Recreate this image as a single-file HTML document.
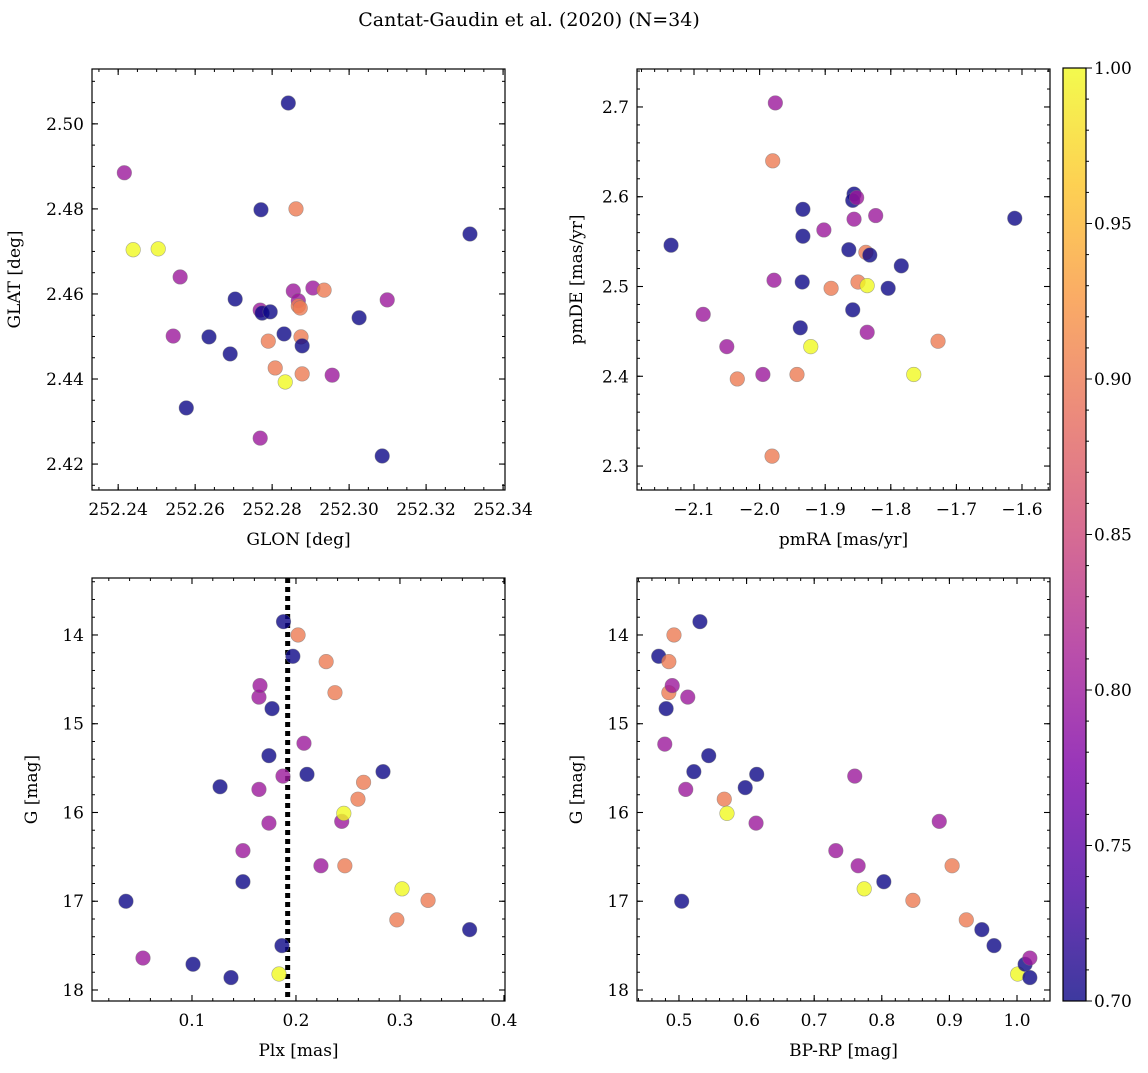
<!DOCTYPE html>
<html><head><meta charset="utf-8"><style>
html,body{margin:0;padding:0;background:#fff;}
svg text{font-family:"DejaVu Serif","Liberation Serif",serif;fill:#000;}
</style></head><body>
<svg id="fig" width="1148" height="1068" xmlns="http://www.w3.org/2000/svg">
<defs><linearGradient id="plasma" x1="0" y1="1" x2="0" y2="0">
<stop offset="0" stop-color="#0d0887"/><stop offset="0.125" stop-color="#4c02a1"/><stop offset="0.25" stop-color="#7e03a8"/><stop offset="0.375" stop-color="#a92395"/><stop offset="0.5" stop-color="#cc4778"/><stop offset="0.625" stop-color="#e66c5c"/><stop offset="0.75" stop-color="#f89540"/><stop offset="0.875" stop-color="#fdc527"/><stop offset="1" stop-color="#f0f921"/>
</linearGradient></defs>
<text x="529" y="26" font-size="19" text-anchor="middle">Cantat-Gaudin et al. (2020) (N=34)</text>
</svg>
<script>
const prob1=[0.8,1.0,1.0,0.8,0.8,0.7,0.7,0.7,0.7,0.7,0.8,0.7,0.7,0.9,0.9,0.8,1.0,0.7,0.7,0.8,0.9,0.8,0.9,0.9,0.9,0.7,0.9,0.8,0.9,0.8,0.7,0.7,0.8,0.7];
const glon=[252.2416,252.2439,252.2504,252.2561,252.2543,252.2577,252.2636,252.2691,252.2704,252.2771,252.2769,252.2774,252.2795,252.2790,252.2808,252.2769,252.2834,252.2831,252.2842,252.2855,252.2862,252.2868,252.2868,252.2873,252.2875,252.2878,252.2878,252.2906,252.2935,252.2956,252.3026,252.3086,252.3099,252.3314];
const glat=[2.4885,2.4704,2.4706,2.4640,2.4501,2.4332,2.4499,2.4459,2.4588,2.4798,2.4562,2.4555,2.4558,2.4489,2.4426,2.4261,2.4393,2.4506,2.5049,2.4607,2.4800,2.4584,2.4572,2.4567,2.4499,2.4478,2.4412,2.4614,2.4609,2.4409,2.4544,2.4219,2.4586,2.4741];
const pmra=[-1.976,-1.980,-2.135,-2.086,-2.050,-2.034,-1.995,-1.981,-1.978,-1.943,-1.922,-1.938,-1.935,-1.934,-1.934,-1.902,-1.891,-1.864,-1.858,-1.856,-1.856,-1.858,-1.852,-1.850,-1.838,-1.836,-1.832,-1.836,-1.823,-1.804,-1.784,-1.765,-1.728,-1.611];
const pmde=[2.7045,2.640,2.546,2.469,2.433,2.397,2.402,2.311,2.507,2.402,2.433,2.454,2.505,2.556,2.586,2.563,2.498,2.541,2.474,2.575,2.603,2.596,2.599,2.505,2.538,2.501,2.535,2.449,2.579,2.498,2.523,2.402,2.439,2.576];
const prob2=[0.8,0.9,0.7,0.8,0.8,0.9,0.8,0.9,0.8,0.9,1.0,0.7,0.7,0.7,0.7,0.8,0.9,0.7,0.7,0.8,0.7,0.7,0.8,0.9,0.9,1.0,0.7,0.8,0.8,0.7,0.7,1.0,0.9,0.7];
const plx=[0.0365,0.0529,0.101,0.1375,0.127,0.149,0.149,0.1644,0.1654,0.1644,0.174,0.174,0.177,0.1875,0.1865,0.1837,0.188,0.197,0.202,0.2077,0.2106,0.224,0.229,0.2375,0.244,0.246,0.247,0.2596,0.265,0.2837,0.297,0.302,0.327,0.367];
const gmag3=[17.00,17.64,17.71,17.86,15.71,16.43,16.78,14.70,14.57,15.74,16.12,15.36,14.83,15.59,17.50,17.82,13.85,14.24,14.00,15.22,15.57,16.60,14.30,14.65,16.10,16.01,16.60,15.85,15.66,15.54,17.21,16.86,16.99,17.32];
const prob3=[0.7,0.8,0.7,0.7,0.7,0.8,0.7,0.8,0.8,0.8,0.8,0.7,0.7,0.8,0.7,1.0,0.7,0.7,0.9,0.8,0.7,0.8,0.9,0.9,0.8,1.0,0.9,0.9,0.9,0.7,0.9,1.0,0.9,0.7];
const bprp=[0.470,0.4926,0.485,0.485,0.490,0.481,0.479,0.513,0.531,0.510,0.522,0.544,0.504,0.567,0.571,0.598,0.615,0.614,0.732,0.760,0.765,0.774,0.803,0.885,0.846,0.904,0.925,0.948,0.966,1.001,1.012,1.019,1.019];
const gmag4=[14.24,14.00,14.30,14.65,14.57,14.83,15.23,14.70,13.85,15.74,15.54,15.36,17.00,15.85,16.01,15.72,15.57,16.12,16.43,15.59,16.60,16.86,16.78,16.10,16.99,16.60,17.21,17.32,17.50,17.82,17.71,17.64,17.86];
const prob4=[0.7,0.9,0.9,0.9,0.8,0.7,0.8,0.8,0.7,0.8,0.7,0.7,0.7,0.9,1.0,0.7,0.7,0.8,0.8,0.8,0.8,1.0,0.7,0.8,0.9,0.9,0.9,0.7,0.7,1.0,0.7,0.8,0.7];
const plxLine=0.192;
const cbTicks=[0.70,0.75,0.80,0.85,0.90,0.95,1.00];

const NS='http://www.w3.org/2000/svg';
const svg=document.getElementById('fig');
function mk(tag,attrs,parent){const e=document.createElementNS(NS,tag);for(const k in attrs)e.setAttribute(k,attrs[k]);(parent||svg).appendChild(e);return e;}
function color(p){const t=Math.max(0,Math.min(1,(p-0.7)/0.3));
 const stops=[[13,8,135],[76,2,161],[126,3,168],[169,35,149],[204,71,120],[230,108,92],[248,149,64],[253,197,39],[240,249,33]];
 const f=t*8,i=Math.min(7,Math.floor(f)),r=f-i;const a=stops[i],b=stops[i+1];
 return 'rgb('+a.map((v,k)=>Math.round(v+(b[k]-v)*r)).join(',')+')';}
function fmt(v,d){let s=v.toFixed(d);if(s.startsWith('-'))s='\u2212'+s.slice(1);return s;}

function panel(o){
 const g=mk('g',{});
 
 
 const X=v=>o.x0+(v-o.xmin)/(o.xmax-o.xmin)*(o.x1-o.x0);
 const Y=o.yinv?(v=>o.y0+(v-o.ymin)/(o.ymax-o.ymin)*(o.y1-o.y0)):(v=>o.y1-(v-o.ymin)/(o.ymax-o.ymin)*(o.y1-o.y0));
 const eps=1e-9;
 for(let v=Math.ceil(o.xmin/o.xminor-eps)*o.xminor;v<=o.xmax+eps;v+=o.xminor){const x=X(v);
  mk('line',{x1:x,x2:x,y1:o.y1,y2:o.y1-3,stroke:'#000','stroke-width':1},g);mk('line',{x1:x,x2:x,y1:o.y0,y2:o.y0+3,stroke:'#000','stroke-width':1},g);}
 for(let v=Math.ceil(o.ymin/o.yminor-eps)*o.yminor;v<=o.ymax+eps;v+=o.yminor){const y=Y(v);
  mk('line',{x1:o.x0,x2:o.x0+3,y1:y,y2:y,stroke:'#000','stroke-width':1},g);mk('line',{x1:o.x1,x2:o.x1-3,y1:y,y2:y,stroke:'#000','stroke-width':1},g);}
 o.xticks.forEach(v=>{const x=X(v);
  mk('line',{x1:x,x2:x,y1:o.y1,y2:o.y1-6,stroke:'#000','stroke-width':1.1},g);mk('line',{x1:x,x2:x,y1:o.y0,y2:o.y0+6,stroke:'#000','stroke-width':1.1},g);
  const t=mk('text',{x:x,y:o.y1+25,'font-size':17,'text-anchor':'middle'},g);t.textContent=fmt(v,o.xd);
  
  });
 o.yticks.forEach(v=>{const y=Y(v);
  mk('line',{x1:o.x0,x2:o.x0+6,y1:y,y2:y,stroke:'#000','stroke-width':1.1},g);mk('line',{x1:o.x1,x2:o.x1-6,y1:y,y2:y,stroke:'#000','stroke-width':1.1},g);
  const t=mk('text',{x:o.x0-8,y:y+6,'font-size':17,'text-anchor':'end'},g);t.textContent=fmt(v,o.yd);
  
  });
 if(o.vline!==undefined){const l=mk('line',{x1:X(o.vline),x2:X(o.vline),y1:o.y0,y2:o.y1,stroke:'#000','stroke-width':5,'stroke-dasharray':'5,4'},g);
  
  }
 for(let i=0;i<o.xs.length;i++){
  const c=mk('circle',{cx:X(o.xs[i]),cy:Y(o.ys[i]),r:7.3,fill:color(o.ps[i]),'fill-opacity':0.8,stroke:'#777','stroke-opacity':0.6,'stroke-width':0.6},g);
  
  }
 const fr=mk('rect',{x:o.x0,y:o.y0,width:o.x1-o.x0,height:o.y1-o.y0,fill:'none',stroke:'#000','stroke-width':1.2},g);
 
 
 const xl=mk('text',{x:(o.x0+o.x1)/2,y:o.y1+55,'font-size':17,'text-anchor':'middle'},g);xl.textContent=o.xlabel;
 
 
 const yx=o.x0-o.ylabOff,yy=(o.y0+o.y1)/2;
 const yl=mk('text',{x:yx,y:yy,'font-size':17,'text-anchor':'middle',transform:'rotate(-90 '+yx+' '+yy+')'},g);yl.textContent=o.ylabel;
 
 
}
const rng=(a,b,s)=>{const r=[];for(let v=a;v<=b+1e-9;v+=s)r.push(Math.round(v*1e6)/1e6);return r;};
panel({name:'glon-glat-panel',x0:92,x1:505,y0:69,y1:490,xmin:252.2332,xmax:252.3405,ymin:2.4139,ymax:2.5129,
 xticks:rng(252.24,252.34,0.02),yticks:rng(2.42,2.50,0.02),xminor:0.005,yminor:0.005,xd:2,yd:2,
 xs:glon,ys:glat,ps:prob1,xlabel:'GLON [deg]',ylabel:'GLAT [deg]',ylabOff:72});
panel({name:'proper-motion-panel',x0:637,x1:1050,y0:69,y1:490,xmin:-2.1869,xmax:-1.5573,ymin:2.2733,ymax:2.7423,
 xticks:rng(-2.1,-1.6,0.1),yticks:rng(2.3,2.7,0.1),xminor:0.02,yminor:0.02,xd:1,yd:1,
 xs:pmra,ys:pmde,ps:prob2,xlabel:'pmRA [mas/yr]',ylabel:'pmDE [mas/yr]',ylabOff:55});
panel({name:'parallax-magnitude-panel',x0:92,x1:505,y0:578,y1:1001,xmin:0.00385,xmax:0.401,ymin:13.358,ymax:18.124,yinv:true,
 xticks:rng(0.1,0.4,0.1),yticks:rng(14,18,1),xminor:0.02,yminor:0.2,xd:1,yd:0,vline:plxLine,
 xs:plx,ys:gmag3,ps:prob3,xlabel:'Plx [mas]',ylabel:'G [mag]',ylabOff:55});
panel({name:'color-magnitude-panel',x0:637,x1:1050,y0:578,y1:1001,xmin:0.4379,xmax:1.0488,ymin:13.358,ymax:18.124,yinv:true,
 xticks:rng(0.5,1.0,0.1),yticks:rng(14,18,1),xminor:0.02,yminor:0.2,xd:1,yd:0,
 xs:bprp,ys:gmag4,ps:prob4,xlabel:'BP-RP [mag]',ylabel:'G [mag]',ylabOff:55});
const cb=mk('g',{});


const cy0=68,cy1=1001,cx0=1063,cx1=1086;
mk('rect',{x:cx0,y:cy0,width:cx1-cx0,height:cy1-cy0,fill:'url(#plasma)','fill-opacity':0.8},cb);
mk('rect',{x:cx0,y:cy0,width:cx1-cx0,height:cy1-cy0,fill:'none',stroke:'#000','stroke-width':1.2},cb);
const CY=v=>cy1-(v-0.7)/0.3*(cy1-cy0);
for(let v=0.70;v<=1.0001;v+=0.01)mk('line',{x1:cx1,x2:cx1+3,y1:CY(v),y2:CY(v),stroke:'#000'},cb);
cbTicks.forEach(v=>{mk('line',{x1:cx1,x2:cx1+6,y1:CY(v),y2:CY(v),stroke:'#000'},cb);
 const t=mk('text',{x:cx1+8,y:CY(v)+6,'font-size':17},cb);t.textContent=v.toFixed(2);
 
 });
</script>
</body></html>
